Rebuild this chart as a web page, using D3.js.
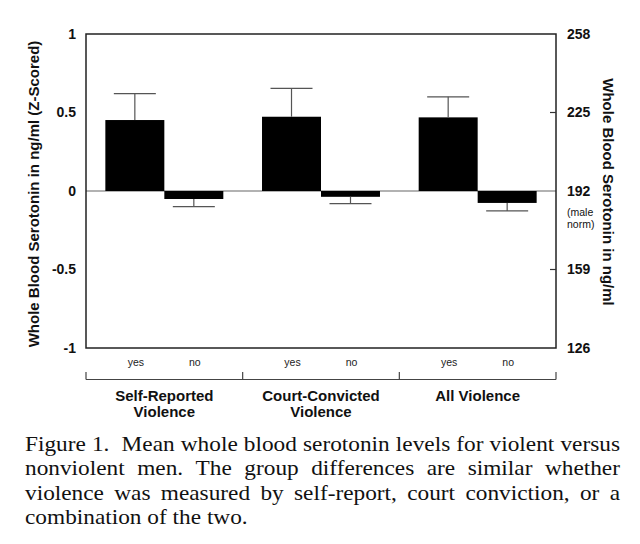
<!DOCTYPE html>
<html>
<head>
<meta charset="utf-8">
<script src="https://cdn.jsdelivr.net/npm/d3@7/dist/d3.min.js"></script>
<style>
  html, body { margin: 0; padding: 0; background: #fff; }
  svg { display: block; }
</style>
</head>
<body>
<svg id="chart" width="640" height="544"></svg>
<script>
// ---- data ----
const groups = ["Self-Reported Violence", "Court-Convicted Violence", "All Violence"];
const groupLines = [["Self-Reported", "Violence"], ["Court-Convicted", "Violence"], ["All Violence"]];
const conditions = ["yes", "no"];
const yesMeans = [0.452, 0.473, 0.469];
const yesSE = [0.168, 0.181, 0.131];
const noMeans = [-0.051, -0.037, -0.076];
const noSE = [0.049, 0.043, 0.051];
const leftTicks = [-1, -0.5, 0, 0.5, 1];
const rightTicks = [126, 159, 192, 225, 258];
const rightInnerTicks = [159, 225];
const captionLines = [
  "Figure 1.  Mean whole blood serotonin levels for violent versus",
  "nonviolent men. The group differences are similar whether",
  "violence was measured by self-report, court conviction, or a",
  "combination of the two."
];

const rows = [];
groups.forEach((g, i) => {
  rows.push({group: g, cond: "yes", mean: yesMeans[i], se: yesSE[i]});
  rows.push({group: g, cond: "no", mean: noMeans[i], se: noSE[i]});
});

// ---- layout ----
const L = 86, R = 556, T = 34, B = 348;
const svg = d3.select("#chart");
const sans = "'Liberation Sans', Arial, Helvetica, sans-serif";
const serif = "'Liberation Serif', 'Times New Roman', serif";

const x0 = d3.scaleBand().domain(groups).range([L, R]).paddingInner(0).paddingOuter(0);
const x1 = d3.scaleBand().domain(conditions).range([0, x0.bandwidth()]).paddingInner(0).paddingOuter(0.328);
const y = d3.scaleLinear().domain([-1, 1]).range([B, T]);
const y2 = d3.scaleLinear().domain([126, 258]).range([B, T]);

// zero line
svg.append("line")
  .attr("x1", L).attr("x2", R)
  .attr("y1", y(0)).attr("y2", y(0))
  .attr("stroke", "#666").attr("stroke-width", 1.2);

// bars
svg.append("g").selectAll("rect").data(rows).join("rect")
  .attr("x", d => x0(d.group) + x1(d.cond))
  .attr("width", x1.bandwidth())
  .attr("y", d => y(Math.max(0, d.mean)))
  .attr("height", d => Math.abs(y(d.mean) - y(0)))
  .attr("fill", "#000");

// error bars
const capHalf = 21;
const eg = svg.append("g").attr("stroke", "#555").attr("stroke-width", 1.2);
rows.forEach(d => {
  const cx = x0(d.group) + x1(d.cond) + x1.bandwidth() / 2;
  const end = d.mean >= 0 ? d.mean + d.se : d.mean - d.se;
  eg.append("line").attr("x1", cx).attr("x2", cx).attr("y1", y(d.mean)).attr("y2", y(end));
  eg.append("line").attr("x1", cx - capHalf).attr("x2", cx + capHalf).attr("y1", y(end)).attr("y2", y(end));
});

// frame
svg.append("rect")
  .attr("x", L).attr("y", T).attr("width", R - L).attr("height", B - T)
  .attr("fill", "none").attr("stroke", "#222").attr("stroke-width", 1.5);

// right inner ticks
svg.append("g").selectAll("line").data(rightInnerTicks).join("line")
  .attr("x1", R - 6).attr("x2", R)
  .attr("y1", d => y2(d)).attr("y2", d => y2(d))
  .attr("stroke", "#333").attr("stroke-width", 1.2);

// left axis labels
const la = svg.append("g").attr("transform", `translate(${L},0)`)
  .call(d3.axisLeft(y).tickValues(leftTicks).tickSize(0).tickPadding(10).tickFormat(d => String(d)));
la.select(".domain").remove();
la.selectAll("text").attr("font-family", sans).attr("font-size", 14).attr("font-weight", "bold").attr("fill", "#111");

// right axis labels
const ra = svg.append("g").attr("transform", `translate(${R},0)`)
  .call(d3.axisRight(y2).tickValues(rightTicks).tickSize(0).tickPadding(11).tickFormat(d => String(d)));
ra.select(".domain").remove();
ra.selectAll("text").attr("font-family", sans).attr("font-size", 14).attr("font-weight", "bold").attr("fill", "#111");

// (male norm)
svg.append("text").attr("x", R + 11).attr("y", y2(192) + 25)
  .attr("font-family", sans).attr("font-size", 10.5).attr("fill", "#111").text("(male");
svg.append("text").attr("x", R + 11).attr("y", y2(192) + 37)
  .attr("font-family", sans).attr("font-size", 10.5).attr("fill", "#111").text("norm)");

// axis titles
svg.append("text")
  .attr("transform", `translate(39,${194}) rotate(-90)`)
  .attr("text-anchor", "middle")
  .attr("font-family", sans).attr("font-size", 15).attr("font-weight", "bold").attr("fill", "#111")
  .text("Whole Blood Serotonin in ng/ml (Z-Scored)");
svg.append("text")
  .attr("transform", `translate(603,${192}) rotate(90)`)
  .attr("text-anchor", "middle")
  .attr("font-family", sans).attr("font-size", 15).attr("font-weight", "bold").attr("fill", "#111")
  .text("Whole Blood Serotonin in ng/ml");

// yes/no labels
svg.append("g").selectAll("text").data(rows).join("text")
  .attr("x", d => x0(d.group) + x1(d.cond) + x1.bandwidth() / 2 + 1)
  .attr("y", 366)
  .attr("text-anchor", "middle")
  .attr("font-family", sans).attr("font-size", 10.5).attr("fill", "#222")
  .text(d => d.cond);

// bracket
const bg = svg.append("g").attr("stroke", "#444").attr("stroke-width", 1.2).attr("fill", "none");
bg.append("line").attr("x1", L).attr("x2", R).attr("y1", 379.5).attr("y2", 379.5);
const bounds = groups.map(g => x0(g)).concat([R]);
bounds.forEach(b => bg.append("line").attr("x1", b).attr("x2", b).attr("y1", 372).attr("y2", 379.5));

// group labels
groups.forEach((g, i) => {
  const cx = x0(g) + x0.bandwidth() / 2;
  groupLines[i].forEach((t, j) => {
    svg.append("text").attr("x", cx).attr("y", 400.5 + j * 16.5)
      .attr("text-anchor", "middle")
      .attr("font-family", sans).attr("font-size", 15).attr("font-weight", "bold").attr("fill", "#111")
      .text(t);
  });
});

// caption (justified, slightly stretched horizontally like the scan)
const capL = 25, capR = 620, capSize = 22, stretch = 1.06;
const cap = svg.append("g").attr("transform", `translate(${capL},0) scale(${stretch},1)`);
const innerW = (capR - capL) / stretch;
captionLines.forEach((line, i) => {
  const yy = 451 + i * 24.4;
  if (i === captionLines.length - 1) {
    cap.append("text").attr("x", 0).attr("y", yy)
      .attr("font-family", serif).attr("font-size", capSize).attr("fill", "#111").text(line);
    return;
  }
  const parts = line.split(/( +)/);
  const words = [], weights = [];
  parts.forEach((p, k) => {
    if (k % 2 === 0) words.push(p); else weights.push(p.length);
  });
  const nodes = words.map(w => cap.append("text").attr("y", yy)
    .attr("font-family", serif).attr("font-size", capSize).attr("fill", "#111").text(w));
  const widths = nodes.map(n => n.node().getComputedTextLength());
  const total = d3.sum(widths);
  const unit = (innerW - total) / d3.sum(weights);
  let cx = 0;
  nodes.forEach((n, k) => { n.attr("x", cx); cx += widths[k] + (k < weights.length ? weights[k] * unit : 0); });
});
</script>
</body>
</html>
